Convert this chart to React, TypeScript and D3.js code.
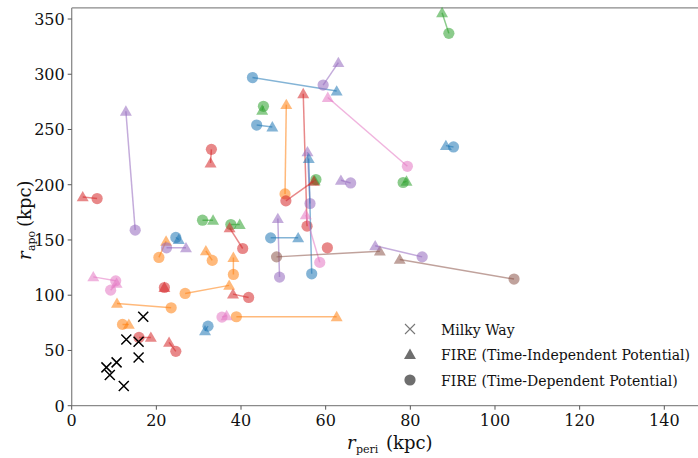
import React from "react";
import * as d3 from "d3";

const palette = ["#1f77b4", "#ff7f0e", "#2ca02c", "#d62728", "#9467bd", "#8c564b", "#e377c2"];

// Milky Way satellites
const mwPeri = [16.9, 12.9, 15.8, 15.8, 10.6, 8.2, 9.0, 12.3];
const mwApo = [80.5, 60, 57.9, 43.7, 39.2, 34.7, 27.8, 17.8];

// FIRE pairs: colour index, time-independent (triangle), time-dependent (circle)
const pairColor = [0, 2, 0, 3, 4, 3, 2, 4, 6, 3, 1, 0, 4, 0, 4, 2, 2, 3, 6, 4, 0, 3, 5, 4, 5, 3, 1, 2, 2, 3, 0, 1, 4, 1, 1, 6, 6, 3, 1, 1, 6, 1, 0, 3, 3];
const tiPeri = [62.6, 45.0, 47.4, 32.8, 12.8, 2.6, 87.5, 63.0, 60.5, 54.7, 50.7, 88.4, 55.7, 56.0, 63.6, 79.1, 57.4, 57.2, 55.3, 48.7, 53.5, null, 72.8, 71.7, 77.5, 38.1, 62.6, 33.4, 39.7, 37.3, 25.3, 22.3, 27.0, 31.7, 38.2, 5.1, 10.6, 21.9, 37.2, 10.7, 36.6, 13.5, 31.5, 18.7, 23.0];
const tiApo = [284.8, 267.4, 252.3, 219.7, 266.5, 189, 355.7, 310.5, 279, 282.4, 272.5, 235.4, 229.7, 223.7, 204, 203.2, 203.5, 203.2, 172.7, 169.4, 151.9, null, 139.9, 144.7, 132.4, 101, 80.5, 167.9, 164, 161, 150.4, 148.9, 142.9, 140.2, 134.2, 116.6, 110.7, 107, 108.9, 92.6, 81.4, 73.6, 67.8, 61.8, 57.3];
const tdPeri = [42.7, 45.3, 43.7, 33.0, 15.0, 6.0, 89.1, 59.4, 79.3, 55.6, 50.4, 90.2, 56.3, 56.7, 65.9, 78.3, 57.7, 50.6, 58.6, 49.1, 47.0, 60.4, 48.4, 82.8, 104.5, 41.8, 38.9, 30.9, 37.6, 40.4, 24.6, 20.6, 22.4, 33.2, 38.2, 10.4, 9.2, 21.9, 26.8, 23.5, 35.5, 12.0, 32.2, 15.9, 24.6];
const tdApo = [297, 271, 254, 232, 158.9, 187.5, 337, 290.2, 216.7, 162.5, 191.7, 234.2, 183, 119.4, 201.6, 202, 204.7, 185.4, 129.7, 116.4, 151.9, 142.9, 134.7, 134.7, 114.6, 98, 80.5, 167.9, 164, 142.3, 152.3, 134.2, 142.9, 131.5, 118.8, 113, 104.6, 107, 101.6, 88.6, 80.2, 73.6, 72, 61.8, 49.2];

const xTicks = [0, 20, 40, 60, 80, 100, 120, 140];
const yTicks = [0, 50, 100, 150, 200, 250, 300, 350];
const legendLabels = ["Milky Way", "FIRE (Time-Independent Potential)", "FIRE (Time-Dependent Potential)"];

const W = 698, H = 458;
const left = 71.7, bottom = 405.7;
const FONT = '"DejaVu Serif", serif';

export default function App() {
  const x = d3.scaleLinear().domain([0, 148]).range([left, left + 148 * (592.6 / 140)]);
  const y = d3.scaleLinear().domain([0, 360]).range([bottom, bottom - 360 * (386.7 / 350)]);
  const tri = d3.symbol().type(d3.symbolTriangle).size(62)();
  const circR = 5.6;
  const spine = "#8a8a8a";
  const txt = { fontFamily: FONT };

  return (
    <svg width={W} height={H} style={{ position: "absolute", left: 0, top: 0, background: "#fff", fontFamily: FONT }}>
      <defs>
        <clipPath id="plot">
          <rect x={left} y={y(360) - 6} width={W - left} height={bottom - y(360) + 6} />
        </clipPath>
      </defs>
      {/* spines */}
      <line x1={left} x2={W} y1={y(360)} y2={y(360)} stroke={spine} strokeWidth={1.3} />
      <line x1={left} x2={W} y1={bottom} y2={bottom} stroke={spine} strokeWidth={1.3} />
      <line x1={left} x2={left} y1={y(360)} y2={bottom} stroke={spine} strokeWidth={1.3} />
      {xTicks.map((t) => (
        <g key={"x" + t}>
          <line x1={x(t)} x2={x(t)} y1={bottom} y2={bottom + 4} stroke="#555" strokeWidth={1} />
          <text x={x(t)} y={bottom + 20} textAnchor="middle" fontSize={16} fill="#111" style={txt}>{t}</text>
        </g>
      ))}
      {yTicks.map((t) => (
        <g key={"y" + t}>
          <line x1={left - 4} x2={left} y1={y(t)} y2={y(t)} stroke="#555" strokeWidth={1} />
          <text x={left - 7} y={y(t) + 6} textAnchor="end" fontSize={16} fill="#111" style={txt}>{t}</text>
        </g>
      ))}
      <g clipPath="url(#plot)">
        {pairColor.map((c, i) => {
          const col = palette[c];
          const hasT = tiPeri[i] !== null;
          return (
            <g key={"p" + i}>
              {hasT && (
                <line x1={x(tiPeri[i] as number)} y1={y(tiApo[i] as number)} x2={x(tdPeri[i])} y2={y(tdApo[i])}
                  stroke={col} strokeOpacity={0.55} strokeWidth={1.5} />
              )}
              {hasT && (
                <path d={tri as string} transform={`translate(${x(tiPeri[i] as number)},${y(tiApo[i] as number) + 1})`}
                  fill={col} fillOpacity={0.55} />
              )}
              <circle cx={x(tdPeri[i])} cy={y(tdApo[i])} r={circR} fill={col} fillOpacity={0.55} />
            </g>
          );
        })}
        {mwPeri.map((p, i) => {
          const cx = x(p), cy = y(mwApo[i]), s = 5;
          return (
            <path key={"mw" + i} d={`M${cx - s},${cy - s}L${cx + s},${cy + s}M${cx - s},${cy + s}L${cx + s},${cy - s}`}
              stroke="#000" strokeWidth={1.5} fill="none" />
          );
        })}
      </g>
      {/* legend */}
      <g>
        {legendLabels.map((lab, i) => {
          const ly = 329 + i * 25.5;
          const mx = 410;
          let marker;
          if (i === 0) {
            marker = <path d={`M${mx - 5},${ly - 5}L${mx + 5},${ly + 5}M${mx - 5},${ly + 5}L${mx + 5},${ly - 5}`} stroke="#777" strokeWidth={1.1} fill="none" />;
          } else if (i === 1) {
            marker = <path d={tri as string} transform={`translate(${mx},${ly + 1})`} fill="#6e6e6e" />;
          } else {
            marker = <circle cx={mx} cy={ly} r={circR} fill="#6e6e6e" />;
          }
          return (
            <g key={"l" + i}>
              {marker}
              <text x={441} y={ly + 5.5} fontSize={14} fill="#111" style={txt}>{lab}</text>
            </g>
          );
        })}
      </g>
      {/* axis labels */}
      <text x={347} y={449} fontSize={18} fill="#111" fontStyle="italic" style={txt}>r</text>
      <text x={356} y={453} fontSize={11} fill="#111" style={txt}>peri</text>
      <text x={386} y={449} fontSize={18} fill="#111" style={txt}>(kpc)</text>
      <g transform={`translate(31,0) rotate(-90)`}>
        <text x={-260} y={0} fontSize={18} fill="#111" fontStyle="italic" style={txt}>r</text>
        <text x={-251} y={4} fontSize={11} fill="#111" style={txt}>apo</text>
        <text x={-227} y={0} fontSize={18} fill="#111" style={txt}>(kpc)</text>
      </g>
    </svg>
  );
}
